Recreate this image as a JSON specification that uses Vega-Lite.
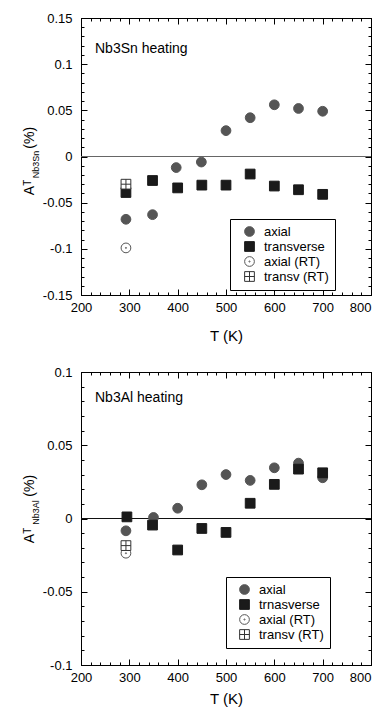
{
  "$schema": "https://vega.github.io/schema/vega-lite/v6.json",
  "background": "white",
  "padding": {"left": 21, "top": 11, "right": 0, "bottom": 0},
  "datasets": {
    "sn": [
      {"T": 293, "A": -0.068, "series": "axial"},
      {"T": 348, "A": -0.063, "series": "axial"},
      {"T": 397, "A": -0.012, "series": "axial"},
      {"T": 449, "A": -0.006, "series": "axial"},
      {"T": 500, "A": 0.028, "series": "axial"},
      {"T": 550, "A": 0.042, "series": "axial"},
      {"T": 600, "A": 0.056, "series": "axial"},
      {"T": 650, "A": 0.052, "series": "axial"},
      {"T": 700, "A": 0.049, "series": "axial"},
      {"T": 293, "A": -0.039, "series": "transverse"},
      {"T": 348, "A": -0.026, "series": "transverse"},
      {"T": 400, "A": -0.034, "series": "transverse"},
      {"T": 450, "A": -0.031, "series": "transverse"},
      {"T": 500, "A": -0.031, "series": "transverse"},
      {"T": 550, "A": -0.019, "series": "transverse"},
      {"T": 600, "A": -0.032, "series": "transverse"},
      {"T": 650, "A": -0.036, "series": "transverse"},
      {"T": 700, "A": -0.041, "series": "transverse"},
      {"T": 293, "A": -0.099, "series": "axial (RT)"},
      {"T": 293, "A": -0.030, "series": "transv (RT)"}
    ],
    "al": [
      {"T": 293, "A": -0.0084, "series": "axial"},
      {"T": 350, "A": 0.0007, "series": "axial"},
      {"T": 400, "A": 0.007, "series": "axial"},
      {"T": 450, "A": 0.023, "series": "axial"},
      {"T": 500, "A": 0.030, "series": "axial"},
      {"T": 550, "A": 0.026, "series": "axial"},
      {"T": 600, "A": 0.0346, "series": "axial"},
      {"T": 650, "A": 0.0378, "series": "axial"},
      {"T": 700, "A": 0.0278, "series": "axial"},
      {"T": 295, "A": 0.0011, "series": "trnasverse"},
      {"T": 348, "A": -0.0045, "series": "trnasverse"},
      {"T": 400, "A": -0.0215, "series": "trnasverse"},
      {"T": 450, "A": -0.0068, "series": "trnasverse"},
      {"T": 500, "A": -0.0095, "series": "trnasverse"},
      {"T": 550, "A": 0.0104, "series": "trnasverse"},
      {"T": 600, "A": 0.0233, "series": "trnasverse"},
      {"T": 650, "A": 0.0337, "series": "trnasverse"},
      {"T": 700, "A": 0.0312, "series": "trnasverse"},
      {"T": 293, "A": -0.0237, "series": "axial (RT)"},
      {"T": 293, "A": -0.0185, "series": "transv (RT)"}
    ]
  },
  "spacing": 21,
  "resolve": {
    "scale": {"x": "independent", "y": "independent", "shape": "independent", "fill": "independent", "stroke": "independent"},
    "legend": {"shape": "independent", "fill": "independent", "stroke": "independent"}
  },
  "vconcat": [
    {
      "width": 290,
      "height": 277,
      "title": {"text": "Nb3Sn heating", "anchor": "start", "frame": "group", "dx": 14, "offset": -44, "fontSize": 14, "fontWeight": "normal", "font": "Liberation Sans", "color": "black"},
      "data": {"name": "sn"},
      "resolve": {"axis": {"x": "independent", "y": "independent"}},
      "layer": [
        {
          "data": {"values": [{}]},
          "mark": {"type": "rule", "color": "#666666", "strokeWidth": 1},
          "encoding": {
            "y": {"datum": 0, "type": "quantitative", "scale": {"domain": [-0.15, 0.15], "nice": false, "zero": false}, "axis": null}
          }
        },
        {
          "mark": {"type": "point", "opacity": 0},
          "encoding": {
            "x": {"field": "T", "type": "quantitative", "scale": {"domain": [200, 800], "nice": false, "zero": false},
              "axis": {"orient": "top", "title": null, "labels": false, "values": [200,220,240,260,280,300,320,340,360,380,400,420,440,460,480,500,520,540,560,580,600,620,640,660,680,700,720,740,760,780,800],
                "tickSize": {"condition": {"test": "datum.value % 100 == 0", "value": -6}, "value": -3}}},
            "y": {"field": "A", "type": "quantitative", "scale": {"domain": [-0.15, 0.15], "nice": false, "zero": false},
              "axis": {"orient": "right", "title": null, "labels": false, "values": [-0.15,-0.14,-0.13,-0.12,-0.11,-0.1,-0.09,-0.08,-0.07,-0.06,-0.05,-0.04,-0.03,-0.02,-0.01,0,0.01,0.02,0.03,0.04,0.05,0.06,0.07,0.08,0.09,0.1,0.11,0.12,0.13,0.14,0.15],
                "tickSize": {"condition": {"test": "abs(round(datum.value*100)) % 5 == 0", "value": -6}, "value": -3}}}
          }
        },
        {
          "mark": {"type": "point", "opacity": 0},
          "encoding": {
            "x": {"field": "T", "type": "quantitative", "scale": {"domain": [200, 800], "nice": false, "zero": false}, "axis": null},
            "y": {"field": "A", "type": "quantitative", "scale": {"domain": [-0.15, 0.15], "nice": false, "zero": false},
              "axis": {"orient": "left", "title": "Nb3Sn", "domain": false, "ticks": false, "labels": false, "titleFontSize": 9, "titleX": -41, "titleY": 146}}
          }
        },
        {
          "mark": {"type": "point", "size": 95, "opacity": 1, "fillOpacity": 1, "strokeWidth": 1},
          "encoding": {
            "x": {"field": "T", "type": "quantitative", "scale": {"domain": [200, 800], "nice": false, "zero": false},
              "axis": {"orient": "bottom", "title": "T (K)", "titleFontSize": 15, "titlePadding": 11, "labelPadding": 12, "labelOverlap": false, "labelFlush": false,
                "values": [200,220,240,260,280,300,320,340,360,380,400,420,440,460,480,500,520,540,560,580,600,620,640,660,680,700,720,740,760,780,800],
                "labelExpr": "datum.value % 100 == 0 ? datum.label : ''",
                "labelAlign": {"condition": {"test": "datum.value == 800", "value": "right"}, "value": "center"},
                "tickSize": {"condition": {"test": "datum.value % 100 == 0", "value": -6}, "value": -3}}},
            "y": {"field": "A", "type": "quantitative", "scale": {"domain": [-0.15, 0.15], "nice": false, "zero": false},
              "axis": {"orient": "left", "title": "Aᵀ\u00a0\u00a0\u00a0\u00a0\u00a0\u00a0\u00a0\u00a0(%)", "titleFontSize": 14, "titleX": -45, "titleY": 142.5, "labelPadding": 15, "labelOverlap": false, "labelFlush": false,
                "values": [-0.15,-0.14,-0.13,-0.12,-0.11,-0.1,-0.09,-0.08,-0.07,-0.06,-0.05,-0.04,-0.03,-0.02,-0.01,0,0.01,0.02,0.03,0.04,0.05,0.06,0.07,0.08,0.09,0.1,0.11,0.12,0.13,0.14,0.15],
                "labelExpr": "abs(round(datum.value*100)) % 5 == 0 ? replace(format(datum.value, '~g'), '\u2212', '-') : ''",
                "tickSize": {"condition": {"test": "abs(round(datum.value*100)) % 5 == 0", "value": -6}, "value": -3}}},
            "shape": {"field": "series", "type": "nominal",
              "scale": {"domain": ["axial", "transverse", "axial (RT)", "transv (RT)"],
                "range": ["circle", "square", "M-1,0A1,1,0,1,1,1,0A1,1,0,1,1,-1,0ZM-0.12,0A0.12,0.12,0,1,1,0.12,0A0.12,0.12,0,1,1,-0.12,0Z", "M-1,-1H1V1H-1ZM0,-1V1M-1,0H1"]},
              "legend": {"title": null, "orient": "none", "legendX": 149, "legendY": 201, "padding": 6, "symbolOffset": 7, "labelOffset": 8, "rowPadding": 0,
                "encode": {"labels": {"update": {"fill": {"signal": "indexof(['axial','axial (RT)'], datum.label) >= 0 ? '#555555' : '#111111'"}}}}}},
            "fill": {"field": "series", "type": "nominal",
              "scale": {"domain": ["axial", "transverse", "axial (RT)", "transv (RT)"], "range": ["#555555", "#1a1a1a", "#ffffff", "#ffffff"]},
              "legend": {"title": null, "orient": "none", "legendX": 149, "legendY": 201, "padding": 6, "symbolOffset": 7, "labelOffset": 8, "rowPadding": 0,
                "encode": {"labels": {"update": {"fill": {"signal": "indexof(['axial','axial (RT)'], datum.label) >= 0 ? '#555555' : '#111111'"}}}}}},
            "stroke": {"field": "series", "type": "nominal",
              "scale": {"domain": ["axial", "transverse", "axial (RT)", "transv (RT)"], "range": ["#555555", "#1a1a1a", "#555555", "#333333"]},
              "legend": {"title": null, "orient": "none", "legendX": 149, "legendY": 201, "padding": 6, "symbolOffset": 7, "labelOffset": 8, "rowPadding": 0,
                "encode": {"labels": {"update": {"fill": {"signal": "indexof(['axial','axial (RT)'], datum.label) >= 0 ? '#555555' : '#111111'"}}}}}}
          }
        }
      ]
    },
    {
      "width": 290,
      "height": 293,
      "title": {"text": "Nb3Al heating", "anchor": "start", "frame": "group", "dx": 14, "offset": -39, "fontSize": 14, "fontWeight": "normal", "font": "Liberation Sans", "color": "black"},
      "data": {"name": "al"},
      "resolve": {"axis": {"x": "independent", "y": "independent"}},
      "layer": [
        {
          "data": {"values": [{}]},
          "mark": {"type": "rule", "color": "#111111", "strokeWidth": 1},
          "encoding": {
            "y": {"datum": 0, "type": "quantitative", "scale": {"domain": [-0.1, 0.1], "nice": false, "zero": false}, "axis": null}
          }
        },
        {
          "mark": {"type": "point", "opacity": 0},
          "encoding": {
            "x": {"field": "T", "type": "quantitative", "scale": {"domain": [200, 800], "nice": false, "zero": false},
              "axis": {"orient": "top", "title": null, "labels": false, "values": [200,220,240,260,280,300,320,340,360,380,400,420,440,460,480,500,520,540,560,580,600,620,640,660,680,700,720,740,760,780,800],
                "tickSize": {"condition": {"test": "datum.value % 100 == 0", "value": -6}, "value": -3}}},
            "y": {"field": "A", "type": "quantitative", "scale": {"domain": [-0.1, 0.1], "nice": false, "zero": false},
              "axis": {"orient": "right", "title": null, "labels": false, "values": [-0.1,-0.09,-0.08,-0.07,-0.06,-0.05,-0.04,-0.03,-0.02,-0.01,0,0.01,0.02,0.03,0.04,0.05,0.06,0.07,0.08,0.09,0.1],
                "tickSize": {"condition": {"test": "abs(round(datum.value*100)) % 5 == 0", "value": -6}, "value": -3}}}
          }
        },
        {
          "mark": {"type": "point", "opacity": 0},
          "encoding": {
            "x": {"field": "T", "type": "quantitative", "scale": {"domain": [200, 800], "nice": false, "zero": false}, "axis": null},
            "y": {"field": "A", "type": "quantitative", "scale": {"domain": [-0.1, 0.1], "nice": false, "zero": false},
              "axis": {"orient": "left", "title": "Nb3Al", "domain": false, "ticks": false, "labels": false, "titleFontSize": 9, "titleX": -41, "titleY": 140}}
          }
        },
        {
          "mark": {"type": "point", "size": 95, "opacity": 1, "fillOpacity": 1, "strokeWidth": 1},
          "encoding": {
            "x": {"field": "T", "type": "quantitative", "scale": {"domain": [200, 800], "nice": false, "zero": false},
              "axis": {"orient": "bottom", "title": "T (K)", "titleFontSize": 15, "titlePadding": 4, "labelPadding": 12, "labelOverlap": false, "labelFlush": false,
                "values": [200,220,240,260,280,300,320,340,360,380,400,420,440,460,480,500,520,540,560,580,600,620,640,660,680,700,720,740,760,780,800],
                "labelExpr": "datum.value % 100 == 0 ? datum.label : ''",
                "labelAlign": {"condition": {"test": "datum.value == 800", "value": "right"}, "value": "center"},
                "tickSize": {"condition": {"test": "datum.value % 100 == 0", "value": -6}, "value": -3}}},
            "y": {"field": "A", "type": "quantitative", "scale": {"domain": [-0.1, 0.1], "nice": false, "zero": false},
              "axis": {"orient": "left", "title": "Aᵀ\u00a0\u00a0\u00a0\u00a0\u00a0\u00a0\u00a0\u00a0(%)", "titleFontSize": 14, "titleX": -45, "titleY": 136.5, "labelPadding": 15, "labelOverlap": false, "labelFlush": false,
                "values": [-0.1,-0.09,-0.08,-0.07,-0.06,-0.05,-0.04,-0.03,-0.02,-0.01,0,0.01,0.02,0.03,0.04,0.05,0.06,0.07,0.08,0.09,0.1],
                "labelExpr": "abs(round(datum.value*100)) % 5 == 0 ? replace(format(datum.value, '~g'), '\u2212', '-') : ''",
                "tickSize": {"condition": {"test": "abs(round(datum.value*100)) % 5 == 0", "value": -6}, "value": -3}}},
            "shape": {"field": "series", "type": "nominal",
              "scale": {"domain": ["axial", "trnasverse", "axial (RT)", "transv (RT)"],
                "range": ["circle", "square", "M-1,0A1,1,0,1,1,1,0A1,1,0,1,1,-1,0ZM-0.12,0A0.12,0.12,0,1,1,0.12,0A0.12,0.12,0,1,1,-0.12,0Z", "M-1,-1H1V1H-1ZM0,-1V1M-1,0H1"]},
              "legend": {"title": null, "orient": "none", "legendX": 145, "legendY": 205, "padding": 6, "symbolOffset": 6, "labelOffset": 8, "rowPadding": 0,
                "encode": {"labels": {"update": {"fill": {"signal": "indexof(['axial','axial (RT)'], datum.label) >= 0 ? '#555555' : '#111111'"}}}}}},
            "fill": {"field": "series", "type": "nominal",
              "scale": {"domain": ["axial", "trnasverse", "axial (RT)", "transv (RT)"], "range": ["#555555", "#1a1a1a", "#ffffff", "#ffffff"]},
              "legend": {"title": null, "orient": "none", "legendX": 145, "legendY": 205, "padding": 6, "symbolOffset": 6, "labelOffset": 8, "rowPadding": 0,
                "encode": {"labels": {"update": {"fill": {"signal": "indexof(['axial','axial (RT)'], datum.label) >= 0 ? '#555555' : '#111111'"}}}}}},
            "stroke": {"field": "series", "type": "nominal",
              "scale": {"domain": ["axial", "trnasverse", "axial (RT)", "transv (RT)"], "range": ["#555555", "#1a1a1a", "#555555", "#333333"]},
              "legend": {"title": null, "orient": "none", "legendX": 145, "legendY": 205, "padding": 6, "symbolOffset": 6, "labelOffset": 8, "rowPadding": 0,
                "encode": {"labels": {"update": {"fill": {"signal": "indexof(['axial','axial (RT)'], datum.label) >= 0 ? '#555555' : '#111111'"}}}}}}
          }
        }
      ]
    }
  ],
  "config": {
    "font": "Liberation Sans",
    "view": {"stroke": "black", "strokeWidth": 1},
    "axis": {"grid": false, "domainColor": "black", "domainWidth": 1, "tickColor": "black", "tickWidth": 1, "labelColor": "black", "labelFont": "Liberation Sans", "labelFontSize": 13, "titleFont": "Liberation Sans", "titleFontWeight": "normal", "titleColor": "black"},
    "legend": {"strokeColor": "black", "fillColor": "white", "labelFont": "Liberation Sans", "labelFontSize": 13, "symbolStrokeWidth": 1, "symbolSize": 95, "cornerRadius": 0}
  }
}
